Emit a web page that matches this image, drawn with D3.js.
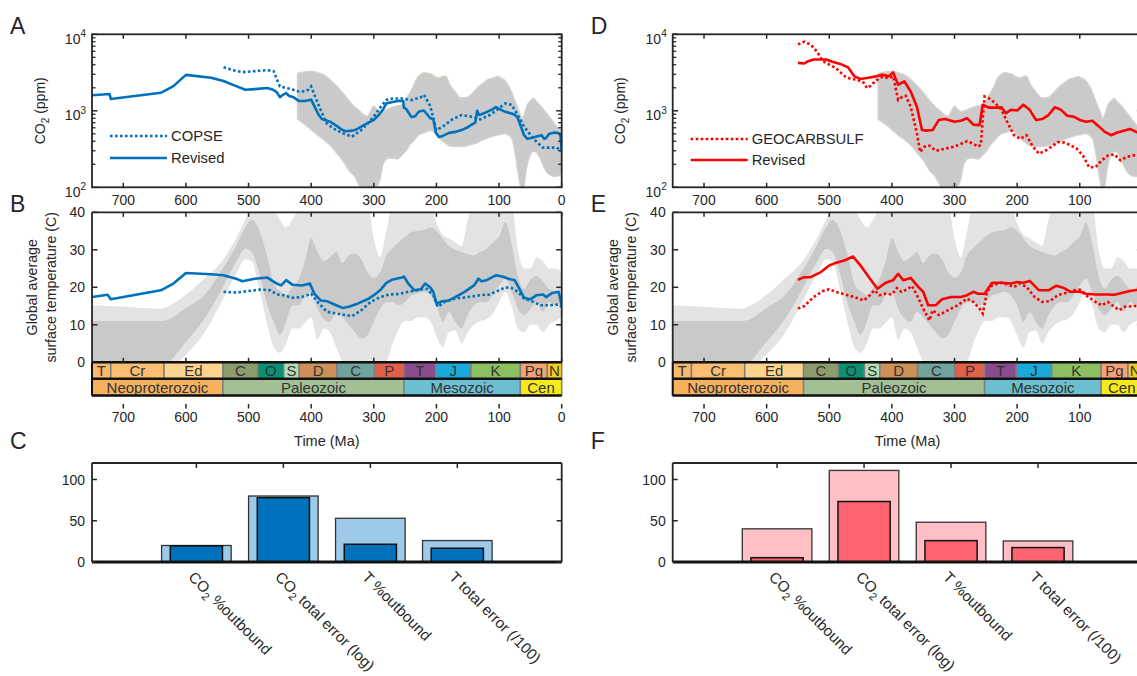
<!DOCTYPE html>
<html><head><meta charset="utf-8">
<script src="https://cdn.jsdelivr.net/npm/d3@7"></script>
<style>
body{margin:0;background:#fff}
svg{display:block}
text{font-family:"Liberation Sans",Arial,Helvetica,sans-serif;fill:#262626}
</style>
</head><body>
<svg id="chart" width="1137" height="676"></svg>
<script>
// ---------------- DATA ----------------
const timeTicks = [700,600,500,400,300,200,100,0];
const co2MajorTicks = [100,1000,10000];
const tempTicks = [0,10,20,30,40];
const barTicks = [0,50,100];
const barCategories = ["CO2 %outbound","CO2 total error (log)","T %outbound","T total error (/100)"];

// proxy CO2 envelope (ppm)
const co2EnvAge = [422,410,400,390,380,370,360,350,340,330,322,316,310,305,300,295,290,285,278,270,262,255,248,243,237,231,225,220,213,208,200,196,190,185,179,170,161,150,144,135,126,115,109,103,97,91,85,80,74,70,66,63,60,56,50,45,40,33,28,22,16,10,5,0];
const co2EnvHigh = [3090,3240,3310,3160,2950,2570,2140,1740,1380,1120,990,890,850,1000,1150,1050,980,1000,1050,1120,1170,1200,1480,1700,2090,2690,3020,3160,3090,3020,2750,2690,2820,2850,2240,1780,1480,1510,1660,2000,2290,2630,2690,2820,2690,2510,2140,1780,1320,1100,900,790,900,1150,1350,1450,1320,1150,1020,890,760,660,590,560];
const co2EnvLow = [776,660,562,479,417,355,282,224,166,135,100,82,79,79,89,100,126,200,236,240,234,263,302,355,398,457,501,513,540,550,479,447,398,372,347,339,339,350,363,380,417,447,465,479,490,501,479,437,263,158,100,71,100,178,263,295,282,224,178,151,141,138,141,151];

// proxy temperature envelopes (C)
const tEnvAge = [750,700,640,627,600,570,545,520,505,495,485,470,460,450,440,430,420,410,400,390,380,370,360,350,340,330,320,310,300,290,280,270,260,250,240,230,220,210,200,190,180,170,160,150,140,130,120,110,100,90,80,70,60,50,40,30,20,10,0];
const tOuterHigh = [15.2,14.8,14.3,15,18,22.5,26.5,33,38,41,42,42,41,38,36,38,41,42,42,42,42,42,42,42,42,42,42,42,33,28,35,42,42,42,42,42,42,42,37,34,33,32,31,38,42,42,42,42,42,42,42,30,25,25,28,27,25,25,24];
const tOuterLow = [-5,-5,-5,-2,2,8,15.5,23.5,27.5,27,21,10,4,2.5,5,9,9,10.5,12,6,9,8,4,0,-3,-5,-5,-3,0,-1,0,5,9,11,11,12,12,11,7,4,8,8.5,5,8,10,11,11.5,13,16,18.8,15,9,8,10,10,8,10,11,12];
const tInnerHigh = [11,11,11,11.5,14.5,18,24,31,36,38,36,28,21,19,18,20,22,27,33,29.5,27,28,29.5,26.5,28.5,29,27.5,24,22.5,24,28.5,30.5,32,33.5,34.7,35,35.2,36,35,33,31,30,29.4,28.8,28.5,29.5,30.3,32,33.5,37.3,31.5,23,19.6,22,23,21.5,19.6,19,18];
const tInnerLow = [-2,-2,-2,0,5.5,11.7,18.8,26.7,30.3,29.5,25,15.2,10.8,7.3,10.8,15.2,15.2,17.9,18.8,14.3,11.7,10.8,13.5,12,10,8,6.4,7.3,10.8,14.3,16,16.1,15.2,16.1,17.9,18.3,18.8,17.9,15.2,10.8,13.5,10.8,9,12.6,15.2,16.1,16.1,17.9,20.5,22.3,18.8,14.3,12.6,14.3,16.1,13.5,16.1,15.2,15.2];

// model series [age Ma, value]
const copseCo2 = [[540,3700],[525,3400],[510,3200],[490,3300],[470,3400],[460,3300],[455,2600],[450,2080],[440,1990],[430,1900],[420,1790],[410,1800],[405,1880],[400,2080],[395,1630],[385,1030],[375,680],[365,590],[350,510],[335,460],[320,560],[310,680],[300,840],[290,1100],[280,1390],[270,1450],[255,1450],[240,1380],[225,1500],[220,1620],[210,1160],[205,800],[200,560],[190,620],[175,770],[160,880],[145,840],[130,770],[115,880],[100,1080],[90,1250],[80,1200],[70,880],[60,620],[45,430],[30,330],[10,330],[0,310]];
const revisedCo2Blue = [[750,1600],[722,1660],[720,1430],[640,1720],[620,2100],[600,2950],[560,2700],[540,2450],[520,2100],[505,1880],[490,1920],[470,1990],[462,1900],[455,1750],[450,1510],[446,1600],[440,1700],[435,1560],[428,1500],[420,1350],[410,1340],[402,1380],[400,1400],[395,1150],[388,880],[383,780],[378,760],[370,720],[360,640],[350,560],[345,540],[335,550],[330,560],[320,620],[310,690],[300,760],[292,880],[285,1050],[280,1250],[270,1300],[260,1350],[253,1340],[252,1100],[248,1050],[240,830],[234,850],[228,980],[220,1010],[215,900],[210,800],[205,780],[201,520],[196,455],[190,470],[180,515],[170,530],[160,560],[150,610],[145,650],[138,700],[135,1000],[132,880],[128,900],[120,960],[110,1050],[105,1120],[100,1060],[90,970],[80,920],[75,890],[70,800],[65,620],[60,480],[55,430],[48,440],[40,460],[32,480],[28,430],[25,440],[20,500],[10,520],[5,510],[2,480],[0,290]];
const copseT = [[540,18.8],[520,18.6],[500,19],[480,19.4],[465,19.2],[455,18.1],[445,17.9],[430,17.2],[415,17.4],[400,18.3],[390,16.1],[375,13.5],[360,13],[345,12.6],[335,12.3],[320,13.9],[305,16.1],[290,17.4],[275,18.1],[260,18.2],[245,18.8],[225,19.4],[215,19.6],[205,17.9],[198,14.8],[185,16.3],[170,17],[150,17.4],[130,17.9],[115,18.1],[100,19.2],[90,20],[80,19.8],[70,18.8],[60,17],[45,16.1],[35,15.2],[20,15.2],[5,15.4],[0,14.8]];
const revisedTBlue = [[750,17.4],[725,18.0],[720,16.8],[640,19.2],[620,21],[600,23.8],[560,23.5],[540,23.2],[520,22.3],[510,21.6],[490,22.3],[470,22.6],[455,21],[448,20.5],[440,21.9],[430,20.7],[415,20.5],[402,21],[395,18.3],[385,16.5],[375,16.3],[360,15.2],[350,14.5],[340,14.8],[325,15.7],[310,16.8],[300,17.9],[290,19.2],[280,21.2],[270,22.1],[255,22.6],[252,22.9],[245,21],[235,19.2],[225,19.5],[218,21],[210,20],[205,18.8],[200,15.7],[190,16.3],[180,16.5],[170,17.4],[155,18.8],[140,20.5],[133,22.3],[128,21.6],[120,21.9],[105,23.2],[95,22.9],[85,22.3],[75,21.9],[65,18.8],[60,17.2],[50,16.8],[40,17.9],[30,18.1],[25,17.4],[15,18.5],[5,18.8],[0,15.2]];
const geocarbCo2 = [[550,7380],[540,8000],[530,7380],[520,6000],[510,4450],[500,4020],[490,3640],[475,2820],[465,2600],[455,2540],[445,2330],[440,1980],[435,2100],[425,2500],[415,2780],[405,2680],[398,2820],[390,1390],[383,1540],[378,1570],[370,1130],[360,505],[355,290],[348,340],[340,350],[330,300],[315,320],[300,340],[290,370],[280,400],[270,370],[262,340],[258,360],[255,760],[252,1540],[245,1460],[235,1260],[225,1030],[215,690],[205,480],[195,430],[185,480],[175,340],[165,275],[155,300],[145,340],[135,390],[125,385],[115,355],[105,320],[95,260],[85,183],[75,183],[65,225],[55,260],[45,270],[35,225],[25,250],[15,260],[5,270],[0,280]];
const revisedCo2Red = [[550,4230],[540,4150],[535,4400],[525,4680],[505,4680],[495,4370],[480,4020],[470,3700],[460,2820],[450,2600],[440,2680],[425,2820],[415,2970],[405,2820],[398,3180],[390,2190],[380,2420],[370,1790],[360,1130],[352,560],[345,550],[335,560],[325,760],[315,780],[300,720],[290,740],[280,800],[270,660],[260,650],[255,1200],[245,1100],[235,1100],[225,1110],[218,930],[210,1030],[200,1010],[190,1200],[180,1030],[170,760],[160,780],[150,880],[140,1110],[130,1030],[120,860],[110,840],[100,760],[90,720],[80,740],[70,630],[60,530],[50,480],[40,520],[30,550],[20,580],[10,530],[0,500]];
const geocarbT = [[550,14.3],[540,15],[525,17.4],[510,19],[500,19.5],[490,18.8],[475,18.1],[460,17.4],[445,16.5],[435,17.9],[428,19.2],[420,17.9],[410,18.3],[400,18.1],[392,19.8],[385,18.8],[375,19.5],[368,20.4],[360,17.9],[350,14.3],[340,11.2],[335,13.9],[325,12.6],[310,13.9],[295,15.2],[280,17],[270,16.1],[260,14.3],[255,13],[248,18.8],[240,20.5],[225,21.2],[215,20.7],[205,20.1],[195,21],[185,20.1],[172,17.4],[160,16.1],[148,16.3],[135,17.9],[120,18.6],[110,19.2],[100,19.4],[90,17.9],[75,16.1],[65,15.2],[55,16.1],[45,14.8],[37,13.9],[28,14.8],[15,15],[0,15]];
const revisedTRed = [[550,22],[540,22.7],[530,22.7],[515,23.9],[500,25.8],[490,26.5],[475,27.2],[462,28.2],[450,25.8],[435,22.3],[423,19.6],[410,21.2],[398,21.9],[390,23.6],[382,21.9],[370,22.5],[358,20.1],[350,18.8],[342,15.2],[330,15.2],[320,16.8],[305,17.4],[290,17.4],[280,17.9],[270,18.8],[262,18.3],[252,18.3],[240,21.2],[225,21.2],[210,21],[200,21.4],[190,21.2],[180,21.7],[165,19.2],[150,19.2],[138,20.4],[125,19.8],[115,18.8],[100,18.9],[90,18.3],[75,18.1],[55,18.1],[45,18],[30,18.6],[20,19],[10,19.3],[0,19.5]];

// bar values
const barLightBlue = [20, 80, 53, 26];
const barDarkBlue = [19.5, 78, 21.5, 16.7];
const barLightRed = [40.2, 111, 48.2, 25.5];
const barDarkRed = [5.2, 73.3, 25.9, 17.5];

// geologic time scale
const periodNames = ["T","Cr","Ed","C","O","S","D","C","P","T","J","K","Pg","N"];
const periodStart = [750,720,635,541,485.4,443.8,419.2,358.9,298.9,251.9,201.3,145,66,23];
const periodEnd = [720,635,541,485.4,443.8,419.2,358.9,298.9,251.9,201.3,145,66,23,0];
const periodColors = ["#f8b96c","#f9be72","#fdd48f","#8c9c6c","#0a9173","#b3dfb8","#cc9058","#6fa39c","#e0604a","#8b4c8e","#1ba9d9","#8cbf62","#f4a276","#f6cb1c"];
const eraNames = ["Neoproterozoic","Paleozoic","Mesozoic","Cen"];
const eraStart = [750,541,251.9,66];
const eraEnd = [541,251.9,66,0];
const eraColors = ["#f6b15f","#a2bf96","#6cbfd1","#f7ea1c"];

// ---------------- LAYOUT ----------------
const PW = 469.7;
const A_T = 34.3, A_B = 187.3;
const B_T = 212.3, B_B = 362.3;
const S1_B = 378.8, S2_B = 395.5;
const C_T = 463, C_B = 562;
const INK = "#262626";
const TICK_FS = 14;

const svg = d3.select("#chart");
const defs = svg.append("defs");
let clipN = 0;
function clip(x,y,w,h){
  const id = "clp"+(clipN++);
  defs.append("clipPath").attr("id",id).append("rect").attr("x",x).attr("y",y).attr("width",w).attr("height",h);
  return "url(#"+id+")";
}
function seg(g,x1,y1,x2,y2,w,c){
  return g.append("line").attr("x1",x1).attr("y1",y1).attr("x2",x2).attr("y2",y2)
   .attr("stroke",c||INK).attr("stroke-width",w||1.5);
}
function co2Text(sel, label, subSize){
  if(label.startsWith("CO2")){
    sel.append("tspan").text("CO");
    sel.append("tspan").attr("dy",4).attr("font-size",subSize).text("2");
    sel.append("tspan").attr("dy",-4).text(label.slice(3));
  } else sel.text(label);
}

const sides = [
  {ox:92, color:"#0072bd", letters:["A","B","C"], refName:"COPSE", refCo2:copseCo2, revCo2:revisedCo2Blue, refT:copseT, revT:revisedTBlue, legY:[136,158], light:barLightBlue, dark:barDarkBlue, cLight:"#9ecae9", cDark:"#0072bd"},
  {ox:672.7, color:"#ff0000", letters:["D","E","F"], refName:"GEOCARBSULF", refCo2:geocarbCo2, revCo2:revisedCo2Red, refT:geocarbT, revT:revisedTRed, legY:[139,160], light:barLightRed, dark:barDarkRed, cLight:"#ffbfc4", cDark:"#ff6370"}
];

sides.forEach(s=>{
  const ox = s.ox;
  const x = d3.scaleLinear().domain([750,0]).range([ox, ox+PW]);

  // ===== Panel A/D : CO2 =====
  const yA = d3.scaleLog().domain([100,10000]).range([A_B,A_T]);
  const gA = svg.append("g");
  const cA = clip(ox, A_T, PW, A_B-A_T);
  const env = co2EnvAge.map((a,i)=>[a, co2EnvLow[i], co2EnvHigh[i]]);
  gA.append("path").datum(env).attr("clip-path",cA)
    .attr("d", d3.area().x(d=>x(d[0])).y0(d=>yA(d[1])).y1(d=>yA(d[2])).curve(d3.curveMonotoneX))
    .attr("fill","#cacaca").attr("stroke","#d9d4ca").attr("stroke-width",1.2);
  const lA = d3.line().x(d=>x(d[0])).y(d=>yA(d[1]));
  gA.append("path").datum(s.refCo2).attr("clip-path",cA).attr("d",lA).attr("fill","none")
    .attr("stroke",s.color).attr("stroke-width",2.6).attr("stroke-dasharray","2.6,2.4");
  gA.append("path").datum(s.revCo2).attr("clip-path",cA).attr("d",lA).attr("fill","none")
    .attr("stroke",s.color).attr("stroke-width",2.6).attr("stroke-linejoin","round");
  gA.append("rect").attr("x",ox).attr("y",A_T).attr("width",PW).attr("height",A_B-A_T)
    .attr("fill","none").attr("stroke",INK).attr("stroke-width",1.8);
  timeTicks.forEach(t=>{
    seg(gA,x(t),A_T,x(t),A_T+4.5); seg(gA,x(t),A_B,x(t),A_B-4.5);
    gA.append("text").attr("x",x(t)).attr("y",A_B+17.5).attr("text-anchor","middle").attr("font-size",TICK_FS).text(t);
  });
  co2MajorTicks.forEach(v=>{
    seg(gA,ox,yA(v),ox+5.5,yA(v)); seg(gA,ox+PW,yA(v),ox+PW-5.5,yA(v));
    const t = gA.append("text").attr("x",ox-6).attr("y",yA(v)+9.5).attr("text-anchor","end").attr("font-size",TICK_FS);
    t.append("tspan").text("10");
    t.append("tspan").attr("dy",-6.5).attr("font-size",10).text(Math.round(Math.log10(v)));
  });
  [100,1000].forEach(n=>{ for(let k=2;k<=9;k++){ const yy=yA(k*n);
    seg(gA,ox,yy,ox+3.5,yy,1.3); seg(gA,ox+PW,yy,ox+PW-3.5,yy,1.3);} });
  const ylA = gA.append("text").attr("transform",`translate(${ox-47.3},${(A_T+A_B)/2}) rotate(-90)`)
    .attr("text-anchor","middle").attr("font-size",14);
  co2Text(ylA,"CO2 (ppm)",10);
  // legend
  seg(gA,ox+18,s.legY[0],ox+75,s.legY[0],2.6,s.color).attr("stroke-dasharray","2.6,2.4");
  seg(gA,ox+18,s.legY[1],ox+75,s.legY[1],2.6,s.color);
  gA.append("text").attr("x",ox+79).attr("y",s.legY[0]+5.4).attr("font-size",14.8).text(s.refName);
  gA.append("text").attr("x",ox+79).attr("y",s.legY[1]+5.4).attr("font-size",14.8).text("Revised");

  // ===== Panel B/E : temperature =====
  const yB = d3.scaleLinear().domain([0,40]).range([B_B,B_T]);
  const gB = svg.append("g");
  const cB = clip(ox, B_T, PW, B_B-B_T);
  const tEnv = tEnvAge.map((a,i)=>[a,tOuterLow[i],tOuterHigh[i],tInnerLow[i],tInnerHigh[i]]);
  gB.append("path").datum(tEnv).attr("clip-path",cB)
    .attr("d", d3.area().x(d=>x(d[0])).y0(d=>yB(d[1])).y1(d=>yB(d[2])).curve(d3.curveMonotoneX))
    .attr("fill","#e3e3e3");
  gB.append("path").datum(tEnv).attr("clip-path",cB)
    .attr("d", d3.area().x(d=>x(d[0])).y0(d=>yB(d[3])).y1(d=>yB(d[4])).curve(d3.curveMonotoneX))
    .attr("fill","#c9c9c9");
  const lB = d3.line().x(d=>x(d[0])).y(d=>yB(d[1]));
  gB.append("path").datum(s.refT).attr("clip-path",cB).attr("d",lB).attr("fill","none")
    .attr("stroke",s.color).attr("stroke-width",2.6).attr("stroke-dasharray","2.6,2.4");
  gB.append("path").datum(s.revT).attr("clip-path",cB).attr("d",lB).attr("fill","none")
    .attr("stroke",s.color).attr("stroke-width",2.6).attr("stroke-linejoin","round");
  seg(gB,ox,B_T,ox+PW,B_T,1.8); seg(gB,ox,B_T,ox,B_B,1.8); seg(gB,ox+PW,B_T,ox+PW,B_B,1.8);
  timeTicks.forEach(t=>{ seg(gB,x(t),B_T,x(t),B_T+4.5); seg(gB,x(t),B_B,x(t),B_B-4.5); });
  tempTicks.forEach(v=>{
    seg(gB,ox,yB(v),ox+5.5,yB(v)); seg(gB,ox+PW,yB(v),ox+PW-5.5,yB(v));
    gB.append("text").attr("x",ox-7).attr("y",yB(v)+5).attr("text-anchor","end").attr("font-size",TICK_FS).text(v);
  });
  gB.append("text").attr("transform",`translate(${ox-54.6},${(B_T+B_B)/2}) rotate(-90)`)
    .attr("text-anchor","middle").attr("font-size",14.2).text("Global average");
  gB.append("text").attr("transform",`translate(${ox-36.4},${(B_T+B_B)/2}) rotate(-90)`)
    .attr("text-anchor","middle").attr("font-size",14.2).text("surface temperature (C)");

  // geologic time strip
  const gS = svg.append("g");
  periodNames.forEach((n,i)=>{
    const xa=x(periodStart[i]), xb=x(periodEnd[i]);
    gS.append("rect").attr("x",xa).attr("y",B_B).attr("width",xb-xa).attr("height",S1_B-B_B)
      .attr("fill",periodColors[i]).attr("stroke","#7f7f7f").attr("stroke-width",1.5);
    gS.append("text").attr("x",(xa+xb)/2).attr("y",(B_B+S1_B)/2+5.4).attr("text-anchor","middle")
      .attr("font-size",15).style("fill","#333").text(n);
  });
  eraNames.forEach((n,i)=>{
    const xa=x(eraStart[i]), xb=x(eraEnd[i]);
    gS.append("rect").attr("x",xa).attr("y",S1_B).attr("width",xb-xa).attr("height",S2_B-S1_B)
      .attr("fill",eraColors[i]).attr("stroke","#7f7f7f").attr("stroke-width",1.5);
    gS.append("text").attr("x",(xa+xb)/2).attr("y",(S1_B+S2_B)/2+5.4).attr("text-anchor","middle")
      .attr("font-size",15).style("fill","#333").text(n);
  });
  seg(gS,ox,B_B,ox+PW,B_B,2.4,"#111");
  seg(gS,ox,S1_B,ox+PW,S1_B,2.4,"#111");
  seg(gS,ox,S2_B,ox+PW,S2_B,2.4,"#111");
  seg(gS,ox,B_B,ox,S2_B,2,"#111");
  timeTicks.forEach(t=>{
    seg(gS,x(t),404,x(t),408.5,1.5);
    gS.append("text").attr("x",x(t)).attr("y",422).attr("text-anchor","middle").attr("font-size",TICK_FS).text(t);
  });
  gS.append("text").attr("x",ox+PW/2).attr("y",446).attr("text-anchor","middle").attr("font-size",14.5).text("Time (Ma)");

  // ===== Panel C/F : bars =====
  const xb = d3.scaleLinear().domain([-0.2,5.2]).range([ox, ox+PW]);
  const yb = d3.scaleLinear().domain([0,120]).range([C_B,C_T]);
  const gC = svg.append("g");
  s.light.forEach((v,i)=>{
    gC.append("rect").attr("x",xb(i+1-0.4)).attr("y",yb(v)).attr("width",xb(0.8)-xb(0)).attr("height",yb(0)-yb(v))
      .attr("fill",s.cLight).attr("stroke","#333").attr("stroke-width",1.3);
  });
  s.dark.forEach((v,i)=>{
    gC.append("rect").attr("x",xb(i+1-0.3)).attr("y",yb(v)).attr("width",xb(0.6)-xb(0)).attr("height",yb(0)-yb(v))
      .attr("fill",s.cDark).attr("stroke","#111").attr("stroke-width",1.5);
  });
  seg(gC,ox,C_T,ox+PW,C_T,1.8); seg(gC,ox,C_T,ox,C_B,1.8); seg(gC,ox+PW,C_T,ox+PW,C_B,1.8);
  seg(gC,ox,C_B,ox+PW,C_B,2.8,"#111");
  barTicks.forEach(v=>{
    seg(gC,ox,yb(v),ox+5,yb(v)); seg(gC,ox+PW,yb(v),ox+PW-5,yb(v));
    gC.append("text").attr("x",ox-7).attr("y",yb(v)+5).attr("text-anchor","end").attr("font-size",TICK_FS).text(v);
  });
  barCategories.forEach((c,i)=>{
    const cx = xb(i+1);
    seg(gC,cx,C_T,cx,C_T+5);
    const t = gC.append("text").attr("transform",`translate(${cx-9},${C_B+16}) rotate(45)`)
      .attr("font-size",15.2);
    co2Text(t,c,11);
  });

  // panel letters
  [[34,s.letters[0]],[212,s.letters[1]],[449,s.letters[2]]].forEach(([yy,L])=>{
    svg.append("text").attr("x",ox-82).attr("y",yy).attr("font-size",23).text(L);
  });
});
</script>
</body></html>
